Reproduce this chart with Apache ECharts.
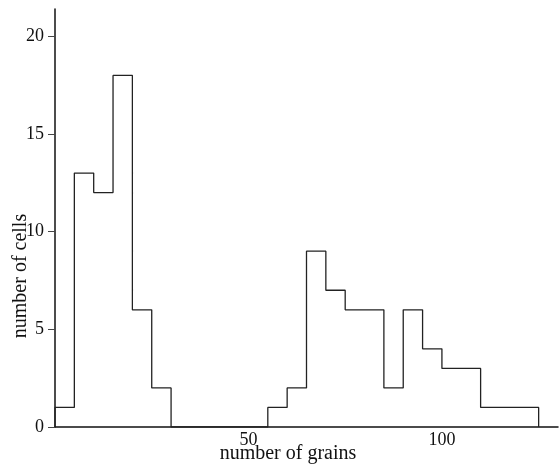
<!DOCTYPE html>
<html>
<head>
<meta charset="utf-8">
<script src="https://cdn.jsdelivr.net/npm/echarts@6/dist/echarts.min.js"></script>
<style>
  html, body { margin: 0; padding: 0; background: #fff; }
  #chart { width: 559px; height: 466px; }
</style>
</head>
<body>
<div id="chart"></div>
<script>
// histogram: left edge of each 5-grain bin and the count of cells in it
var binStarts = [0, 5, 10, 15, 20, 25, 30, 35, 40, 45, 50, 55, 60, 65, 70, 75, 80, 85, 90, 95, 100, 105, 110, 115, 120];
var counts    = [1, 13, 12, 18, 6, 2, 0, 0, 0, 0, 0, 1, 2, 9, 7, 6, 6, 2, 6, 4, 3, 3, 1, 1, 1];
var binWidth = 5;
var xTicks = [50, 100];
var yTicks = [0, 5, 10, 15, 20];

var font = '"Liberation Serif", "DejaVu Serif", serif';

// step outline points (start at zero, close back to zero at the last edge)
var outline = [[binStarts[0], 0]];
binStarts.forEach(function (x, i) { outline.push([x, counts[i]]); });
outline.push([binStarts[binStarts.length - 1] + binWidth, 0]);

var myChart = echarts.init(document.getElementById('chart'));
var option = {
    animation: false,
    backgroundColor: '#fff',
    grid: { left: 55, right: 1, top: 9, bottom: 39 },
    xAxis: {
        type: 'value',
        min: 0,
        max: 130,
        interval: 50,
        splitLine: { show: false },
        axisLine: { lineStyle: { color: '#111', width: 1.5 } },
        axisTick: { show: false },
        axisLabel: {
            color: '#111', fontFamily: font, fontSize: 18, margin: 4,
            customValues: xTicks
        }
    },
    yAxis: {
        type: 'value',
        min: 0,
        max: 21.4,
        interval: 5,
        splitLine: { show: false },
        axisLine: { show: true, lineStyle: { color: '#111', width: 1.5 } },
        axisTick: { show: true, length: 7, customValues: yTicks, lineStyle: { color: '#444', width: 1 } },
        axisLabel: {
            color: '#111', fontFamily: font, fontSize: 18, margin: 11,
            customValues: yTicks
        }
    },
    graphic: [
        {
            type: 'text', x: 288, y: 454,
            style: { text: 'number of grains', fill: '#111', font: '20px ' + font, textAlign: 'center', textVerticalAlign: 'middle' }
        },
        {
            type: 'text', x: 21, y: 276, rotation: Math.PI / 2,
            style: { text: 'number of cells', fill: '#111', font: '20px ' + font, textAlign: 'center', textVerticalAlign: 'middle' }
        }
    ],
    series: [{
        type: 'line',
        step: 'end',
        data: outline,
        symbol: 'none',
        lineStyle: { color: '#222', width: 1.3 }
    }]
};
myChart.setOption(option);
</script>
</body>
</html>
